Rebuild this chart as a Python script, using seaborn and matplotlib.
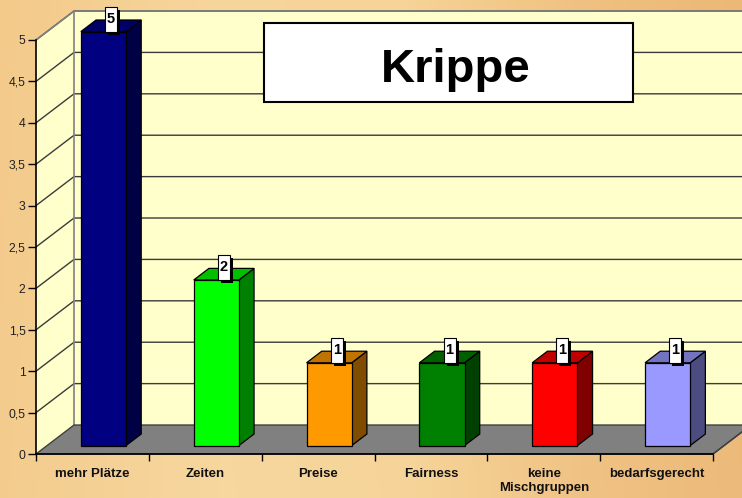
import numpy as np
import pandas as pd
import matplotlib
matplotlib.use("Agg")
import matplotlib.pyplot as plt
from matplotlib.patches import Polygon, Rectangle
import seaborn as sns

# ------------------------------------ data ----------------------------------------
categories = ["mehr Plätze", "Zeiten", "Preise", "Fairness", "keine\nMischgruppen", "bedarfsgerecht"]
values = [5, 2, 1, 1, 1, 1]
value_labels = ["5", "2", "1", "1", "1", "1"]
front_colors = ["#000080", "#00FF00", "#FF9900", "#008000", "#FF0000", "#9999FF"]
side_colors = ["#000045", "#008000", "#7F4C00", "#004000", "#800000", "#4C4C80"]
top_colors = ["#000066", "#00C000", "#C07400", "#006000", "#C00000", "#7373C0"]
y_ticks = [0, 0.5, 1, 1.5, 2, 2.5, 3, 3.5, 4, 4.5, 5]
y_tick_labels = ["0", "0,5", "1", "1,5", "2", "2,5", "3", "3,5", "4", "4,5", "5"]
title = "Krippe"

# ------------------------------------ style ----------------------------------------
sns.set_theme(style="ticks")
plt.rcParams["font.family"] = ["Liberation Sans", "DejaVu Sans"]

W, H = 742, 498
fig = plt.figure(figsize=(W / 100, H / 100), dpi=100)

# orange gradient background
bg = fig.add_axes([0, 0, 1, 1], zorder=-10)
xs = np.linspace(0, 1, 400)
anchors = [0, 0.3, 0.55, 0.8, 1]
cols = np.array([[243, 202, 138], [247, 214, 156], [246, 211, 150], [239, 192, 127], [236, 184, 118]]) / 255
row = np.stack([np.interp(xs, anchors, cols[:, k]) for k in range(3)], axis=1)
ys = np.linspace(0, 1, 200)[:, None, None]
grad = row[None, :, :] * (1 - 0.03 * ys) + 0.03 * ys
bg.imshow(np.clip(grad, 0, 1), aspect="auto", extent=[0, 1, 0, 1])
bg.axis("off")

# front plane of the 3D box
ax = fig.add_axes([36 / W, 44 / H, 677 / W, 414 / H])
ax.set_facecolor("none")

df = pd.DataFrame({"cat": categories, "val": values})
sns.barplot(data=df, x="cat", y="val", hue="cat", palette=front_colors, legend=False,
            width=0.4, saturation=1, edgecolor="black", linewidth=0.9, ax=ax, zorder=5)
bars = sorted([p for p in ax.patches], key=lambda p: p.get_x())

n = len(categories)
X0, X1 = -0.5, n - 0.5
YMAX = 5
DX, DY = 0.337, 0.35          # depth of the box
FX, FY = 0.29 * DX, 0.29 * DY  # front face of the bars
BX, BY = 0.4 * DX, 0.4 * DY    # depth of the bars
ax.set_xlim(X0, X1)
ax.set_ylim(0, YMAX)
sx = 677 / n
sy = 414 / YMAX

# walls
wall = "#FFFFCC"
ax.add_patch(Polygon([(X0, 0), (X0 + DX, DY), (X0 + DX, YMAX + DY), (X0, YMAX)],
                     fc=wall, ec="none", clip_on=False, zorder=0))
ax.add_patch(Rectangle((X0 + DX, DY), X1 - X0 + 0.2, YMAX, fc=wall, ec="none", clip_on=False, zorder=0))
for t in y_ticks[1:]:
    ax.plot([X0, X0 + DX, X1 + 0.5], [t, t + DY, t + DY], color="#3a3a3a", lw=1, clip_on=False, zorder=1)
ax.plot([X0 + DX, X0 + DX], [DY, YMAX + DY], color="#808080", lw=1.2, clip_on=False, zorder=1)
ax.plot([X0, X0 + DX, X1 + 0.5], [YMAX, YMAX + DY, YMAX + DY], color="#808080", lw=1.2, clip_on=False, zorder=1)

# floor
ax.add_patch(Polygon([(X0, 0), (X1, 0), (X1 + DX, DY), (X0 + DX, DY)],
                     fc="#808080", ec="#404040", lw=1, clip_on=False, zorder=2))

# bars: shift front faces, add sides, tops and value boxes
for i, p in enumerate(bars):
    x0 = p.get_x() + FX
    w = p.get_width()
    h = p.get_height()
    p.set_x(x0)
    p.set_y(FY)
    p.set_clip_on(False)
    top = FY + h
    ax.add_patch(Polygon([(x0 + w, FY), (x0 + w + BX, FY + BY), (x0 + w + BX, top + BY), (x0 + w, top)],
                         fc=side_colors[i], ec="black", lw=0.9, zorder=4.9, clip_on=False))
    ax.add_patch(Polygon([(x0, top), (x0 + w, top), (x0 + w + BX, top + BY), (x0 + BX, top + BY)],
                         fc=top_colors[i], ec="black", lw=0.9, zorder=4.9, clip_on=False))
    cx = x0 + w / 2 + BX / 2
    bw, bh = 12 / sx, 25 / sy
    ax.add_patch(Rectangle((cx - bw / 2 + 3 / sx, top - 3 / sy), bw, bh, fc="black", ec="none",
                           clip_on=False, zorder=6))
    ax.add_patch(Rectangle((cx - bw / 2, top), bw, bh, fc="white", ec="black", lw=0.8,
                           clip_on=False, zorder=7))
    ax.text(cx, top + bh / 2, value_labels[i], ha="center", va="center", fontsize=10.5,
            fontweight="bold", color="black", zorder=8, clip_on=False)

# axes
ax.set_xticks(range(n))
ax.set_xticklabels(categories, fontsize=9.5, fontweight="bold", color="#111111", linespacing=1.2)
ax.set_xticks(np.arange(X0, X1 + 0.1, 1), minor=True)
ax.tick_params(axis="x", which="major", length=0, pad=10, bottom=True)
ax.tick_params(axis="x", which="minor", length=5, width=1, color="black", direction="out", bottom=True)
ax.set_yticks(y_ticks)
ax.set_yticklabels(y_tick_labels, fontsize=8.8, color="#222222")
ax.tick_params(axis="y", length=6, width=1, color="black", direction="out", pad=1.5, left=True)
ax.set_xlabel("")
ax.set_ylabel("")
for s in ["top", "right"]:
    ax.spines[s].set_visible(False)
for s in ["left", "bottom"]:
    ax.spines[s].set_color("black")
    ax.spines[s].set_linewidth(1.2)
    ax.spines[s].set_zorder(3)
ax.plot([X1, X1 + DX], [0, DY], color="#404040", lw=1, clip_on=False, zorder=3)

# title box
fig.add_artist(Rectangle((264 / W, 396 / H), 369 / W, 79 / H, transform=fig.transFigure,
                         fc="white", ec="black", lw=1.5, zorder=20))
fig.text(456 / W, 416 / H, title, ha="center", va="baseline", fontsize=34, fontweight="bold",
         color="black", zorder=21)

fig.savefig("out.png", dpi=100)
